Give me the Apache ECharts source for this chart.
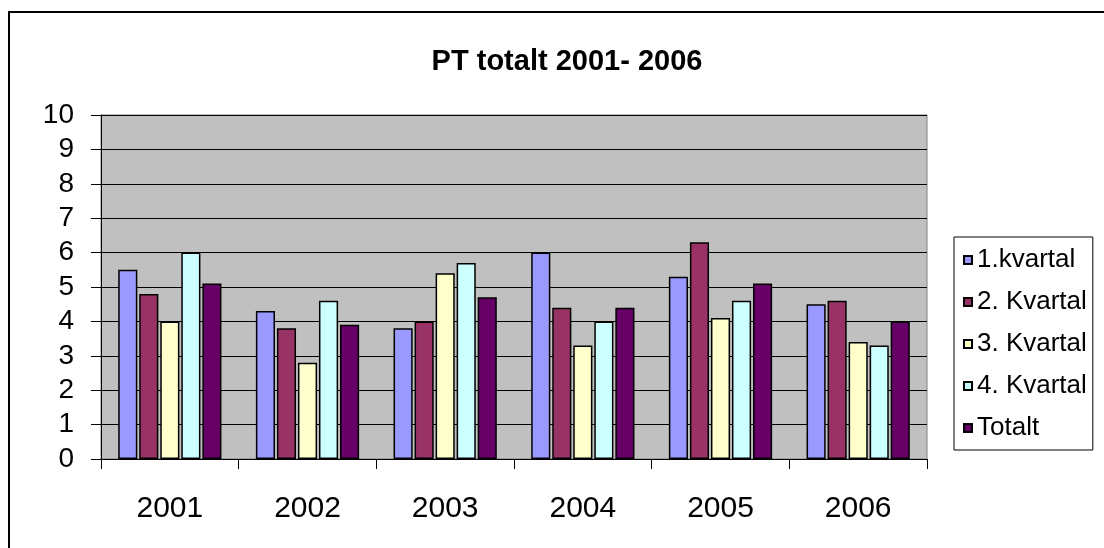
<!DOCTYPE html>
<html>
<head>
<meta charset="utf-8">
<script src="https://cdn.jsdelivr.net/npm/echarts@6/dist/echarts.min.js"></script>
<style>
  html, body { margin: 0; padding: 0; background: #fff; }
  #chart { width: 1104px; height: 548px; }
</style>
</head>
<body>
<div id="chart"></div>
<script>
// Data
const years = ['2001', '2002', '2003', '2004', '2005', '2006'];
const kvartal1 = [5.5, 4.3, 3.8, 6.0, 5.3, 4.5];
const kvartal2 = [4.8, 3.8, 4.0, 4.4, 6.3, 4.6];
const kvartal3 = [4.0, 2.8, 5.4, 3.3, 4.1, 3.4];
const kvartal4 = [6.0, 4.6, 5.7, 4.0, 4.6, 3.3];
const totalt = [5.1, 3.9, 4.7, 4.4, 5.1, 4.0];

const seriesNames = ['1.kvartal', '2. Kvartal', '3. Kvartal', '4. Kvartal', 'Totalt'];
const seriesData = [kvartal1, kvartal2, kvartal3, kvartal4, totalt];
const seriesColors = ['#9999FF', '#993366', '#FFFFCC', '#CCFFFF', '#660066'];

const FONT = '"Liberation Sans", Arial, sans-serif';

const chart = echarts.init(document.getElementById('chart'));
chart.setOption({
  backgroundColor: '#fff',
  animation: false,
  title: {
    text: 'PT totalt 2001- 2006',
    left: 562,
    top: 42,
    textAlign: 'center',
    textStyle: { fontFamily: FONT, fontSize: 29, fontWeight: 'bold', color: '#000' }
  },
  // outer chart-area frame (extends past the right and bottom edges)
  graphic: [{
    type: 'rect',
    shape: { x: 9, y: 12, width: 1200, height: 600 },
    style: { fill: 'none', stroke: '#000', lineWidth: 2 },
    silent: true
  }],
  legend: {
    orient: 'vertical',
    left: 954,
    top: 237,
    padding: [10, 6, 9, 9],
    borderColor: '#000',
    borderWidth: 1,
    itemWidth: 8,
    itemHeight: 8,
    itemGap: 16,
    icon: 'rect',
    textStyle: { fontFamily: FONT, fontSize: 26, color: '#000' },
    data: seriesNames
  },
  grid: {
    left: 101,
    top: 115,
    right: 177,
    bottom: 89,
    show: true,
    backgroundColor: '#C0C0C0',
    borderColor: '#808080',
    borderWidth: 1
  },
  xAxis: {
    type: 'category',
    data: years,
    axisLine: { lineStyle: { color: '#000', width: 1 } },
    axisTick: { show: true, length: 10, lineStyle: { color: '#000' } },
    axisLabel: { fontFamily: FONT, fontSize: 30, color: '#000', margin: 35 }
  },
  yAxis: {
    type: 'value',
    min: 0,
    max: 10,
    interval: 1,
    axisLine: { show: true, lineStyle: { color: '#000', width: 1 } },
    axisTick: { show: true, length: 10, lineStyle: { color: '#000' } },
    axisLabel: { fontFamily: FONT, fontSize: 28, color: '#000', margin: 27 },
    splitLine: { lineStyle: { color: '#000', width: 1 } }
  },
  series: seriesNames.map((name, i) => ({
    type: 'bar',
    name: name,
    data: seriesData[i],
    barGap: '10%',
    barCategoryGap: '25%',
    itemStyle: { color: seriesColors[i], borderColor: '#000', borderWidth: 1.5 }
  }))
});
</script>
</body>
</html>
